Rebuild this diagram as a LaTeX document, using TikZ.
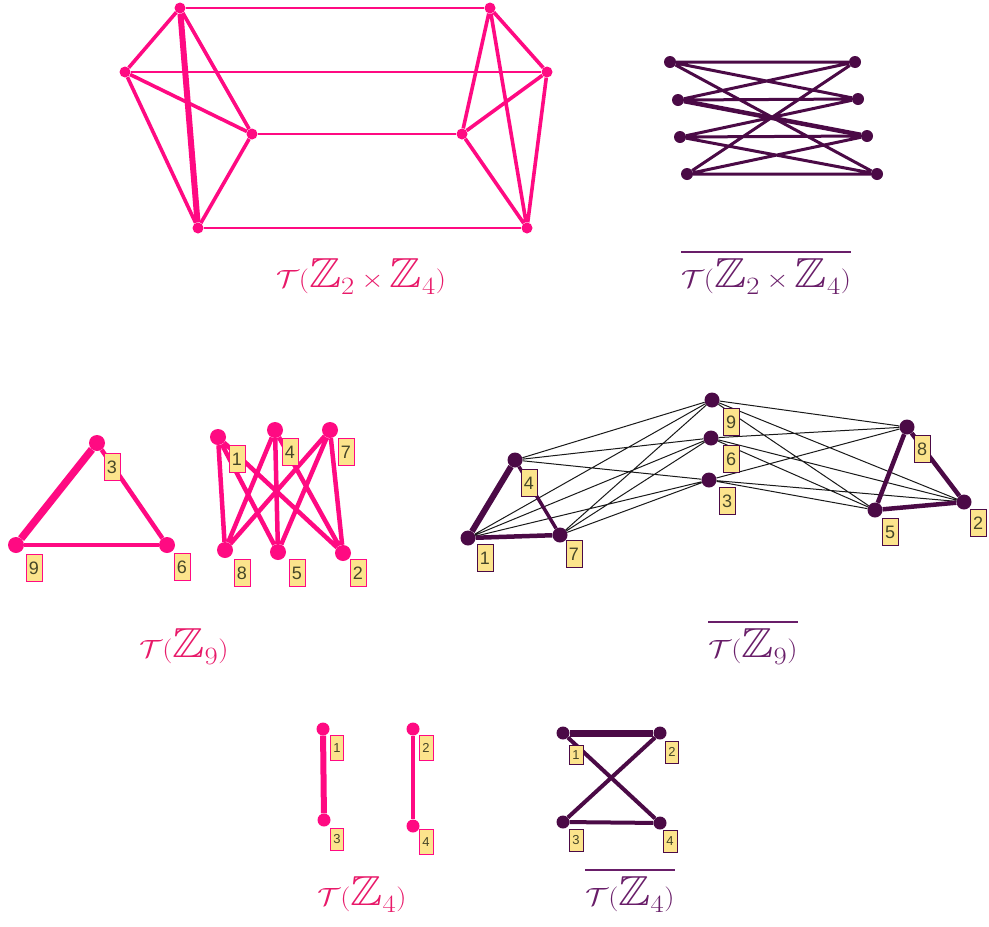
\documentclass[tikz,border=0pt]{standalone}
\usepackage{amsmath,amssymb}
\usepackage{fontspec}
\newfontfamily\lblfont{Liberation Sans}
\definecolor{pinkE}{RGB}{255,10,130}
\definecolor{purpE}{RGB}{75,10,70}
\definecolor{pinkC}{RGB}{232,25,105}
\definecolor{purpC}{RGB}{105,30,105}
\definecolor{lblfill}{RGB}{252,228,140}
\definecolor{lbltext}{RGB}{70,70,40}
\newcommand{\capbox}[1]{\scalebox{1.15}[1]{$#1$}}

\begin{document}
\begin{tikzpicture}[x=1pt,y=-1pt,
    pv/.style={circle,fill=pinkE,inner sep=0pt,minimum size=11pt},
    uv/.style={circle,fill=purpE,inner sep=0pt,minimum size=12pt},
    pl/.style={draw=pinkE,fill=lblfill,text=lbltext,line width=1pt,inner sep=0pt,
               minimum width=16pt,minimum height=27pt,font=\lblfont\fontsize{18}{18}\selectfont},
    ul/.style={pl,draw=purpE},
    pe/.style={draw=pinkE,line width=3.6pt},
    ue/.style={draw=purpE,line width=3pt},
    te/.style={draw=black!90,line width=1pt},
    capt/.style={anchor=base,font=\fontsize{42}{48}\selectfont}]
  \useasboundingbox (0,0) rectangle (989,927);

  \node[pv] (a1) at (180,8)   {};
  \node[pv] (a2) at (125,72)  {};
  \node[pv] (a3) at (252,134) {};
  \node[pv] (a4) at (198,228) {};
  \node[pv] (a5) at (490,8)   {};
  \node[pv] (a6) at (547,72)  {};
  \node[pv] (a7) at (462,134) {};
  \node[pv] (a8) at (527,228) {};
  \draw[pe] (a1)--(a2) (a1)--(a3) (a2)--(a3) (a2)--(a4) (a3)--(a4)
            (a5)--(a6) (a5)--(a7) (a5)--(a8) (a6)--(a7) (a6)--(a8) (a7)--(a8);
  \draw[pe,line width=6pt] (a1)--(a4);
  \draw[pe,line width=1.5pt] (a1)--(a5) (a2)--(a6) (a3)--(a7) (a4)--(a8);

  \node[uv] (b1) at (670,62)  {};
  \node[uv] (b2) at (678,100) {};
  \node[uv] (b3) at (680,137) {};
  \node[uv] (b4) at (687,174) {};
  \node[uv] (c1) at (855,62)  {};
  \node[uv] (c2) at (858,99)  {};
  \node[uv] (c3) at (867,136) {};
  \node[uv] (c4) at (877,174) {};
  \draw[ue] (b1)--(c1) (b1)--(c2) (b1)--(c4) (b2)--(c1) (b2)--(c2)
            (b3)--(c2) (b3)--(c3) (b3)--(c4) (b4)--(c1) (b4)--(c3) (b4)--(c4);
  \draw[ue,line width=4.5pt] (b2)--(c3);

  \node[capt,text=pinkC] (t1) at (361,287) {\capbox{\mathcal{T}(\mathbb{Z}_2\times\mathbb{Z}_4)}};
  \node[capt,text=purpC] (t2) at (766,287) {\capbox{\overline{\mathcal{T}(\mathbb{Z}_2\times\mathbb{Z}_4)}}};

  \node[pv,minimum size=16pt] (p3) at (97,443)  {};
  \node[pv,minimum size=16pt] (p9) at (16,545)  {};
  \node[pv,minimum size=16pt] (p6) at (167,545) {};
  \draw[pe,line width=7.5pt] (p3)--(p9);
  \draw[pe,line width=4.5pt] (p3)--(p6);
  \draw[pe,line width=4pt] (p9)--(p6);
  \node[pl] (lp3) at (112,467) {3};
  \node[pl] (lp9) at (34,568)  {9};
  \node[pl] (lp6) at (182,567) {6};

  \node[pv,minimum size=16pt] (p1) at (218,437) {};
  \node[pv,minimum size=16pt] (p4) at (275,430) {};
  \node[pv,minimum size=16pt] (p7) at (330,430) {};
  \node[pv,minimum size=16pt] (p8) at (225,550) {};
  \node[pv,minimum size=16pt] (p5) at (278,552) {};
  \node[pv,minimum size=16pt] (p2) at (343,553) {};
  \draw[pe,line width=4.5pt] (p1)--(p8) (p1)--(p5) (p1)--(p2) (p4)--(p8) (p4)--(p5) (p4)--(p2)
            (p7)--(p8) (p7)--(p5) (p7)--(p2);
  \node[pl] (lp1) at (237,459) {1};
  \node[pl] (lp4) at (290,452) {4};
  \node[pl] (lp7) at (346,452) {7};
  \node[pl] (lp8) at (242,573) {8};
  \node[pl] (lp5) at (297,573) {5};
  \node[pl] (lp2) at (358,573) {2};

  \node[uv,minimum size=15pt] (q1) at (468,538) {};
  \node[uv,minimum size=15pt] (q4) at (515,460) {};
  \node[uv,minimum size=15pt] (q7) at (560,535) {};
  \node[uv,minimum size=15pt] (q9) at (712,400) {};
  \node[uv,minimum size=15pt] (q6) at (711,438) {};
  \node[uv,minimum size=15pt] (q3) at (709,480) {};
  \node[uv,minimum size=15pt] (q8) at (907,427) {};
  \node[uv,minimum size=15pt] (q5) at (875,510) {};
  \node[uv,minimum size=15pt] (q2) at (964,502) {};
  \draw[te] (q9)--(q1) (q9)--(q4) (q9)--(q7) (q9)--(q8) (q9)--(q5) (q9)--(q2)
            (q6)--(q1) (q6)--(q4) (q6)--(q7) (q6)--(q8) (q6)--(q5) (q6)--(q2)
            (q3)--(q1) (q3)--(q4) (q3)--(q7) (q3)--(q8) (q3)--(q5) (q3)--(q2);
  \draw[ue,line width=6pt] (q1)--(q4);
  \draw[ue,line width=4.5pt] (q1)--(q7) (q8)--(q5) (q8)--(q2) (q5)--(q2);
  \draw[ue,line width=3.5pt] (q4)--(q7);
  \node[ul] (lq1) at (485,558) {1};
  \node[ul] (lq4) at (529,483) {4};
  \node[ul] (lq7) at (574,554) {7};
  \node[ul] (lq9) at (731,422) {9};
  \node[ul] (lq6) at (731,459) {6};
  \node[ul] (lq3) at (727,501) {3};
  \node[ul] (lq8) at (922,449) {8};
  \node[ul] (lq5) at (890,532) {5};
  \node[ul] (lq2) at (978,523) {2};

  \node[capt,text=pinkC] (t3) at (184,657) {\capbox{\mathcal{T}(\mathbb{Z}_9)}};
  \node[capt,text=purpC] (t4) at (753,657) {\capbox{\overline{\mathcal{T}(\mathbb{Z}_9)}}};

  \node[pv,minimum size=13pt] (r1) at (323,729) {};
  \node[pv,minimum size=13pt] (r3) at (324,820) {};
  \node[pv,minimum size=13pt] (r2) at (413,729) {};
  \node[pv,minimum size=13pt] (r4) at (413,826) {};
  \draw[pe,line width=6pt] (r1)--(r3);
  \draw[pe,line width=3.5pt] (r2)--(r4);
  \node[pl,minimum width=13pt,minimum height=25pt,font=\lblfont\fontsize{13}{13}\selectfont] (lr1) at (337,748) {1};
  \node[pl,minimum width=13pt,minimum height=22pt,font=\lblfont\fontsize{13}{13}\selectfont] (lr3) at (337,839) {3};
  \node[pl,minimum width=14pt,minimum height=25pt,font=\lblfont\fontsize{13}{13}\selectfont] (lr2) at (426,748) {2};
  \node[pl,minimum width=14pt,minimum height=25pt,font=\lblfont\fontsize{13}{13}\selectfont] (lr4) at (426,842) {4};

  \node[uv,minimum size=13pt] (s1) at (563,733) {};
  \node[uv,minimum size=13pt] (s2) at (660,733) {};
  \node[uv,minimum size=13pt] (s3) at (563,822) {};
  \node[uv,minimum size=13pt] (s4) at (660,823) {};
  \draw[ue,line width=7pt] (s1)--(s2);
  \draw[ue,line width=4pt] (s3)--(s4) (s1)--(s4) (s2)--(s3);
  \node[ul,minimum width=14pt,minimum height=19pt,font=\lblfont\fontsize{13}{13}\selectfont] (ls1) at (576,755) {1};
  \node[ul,minimum width=13pt,minimum height=22pt,font=\lblfont\fontsize{13}{13}\selectfont] (ls2) at (672,752) {2};
  \node[ul,minimum width=14pt,minimum height=22pt,font=\lblfont\fontsize{13}{13}\selectfont] (ls3) at (576,840) {3};
  \node[ul,minimum width=14pt,minimum height=22pt,font=\lblfont\fontsize{13}{13}\selectfont] (ls4) at (670,841) {4};

  \node[capt,text=pinkC] (t5) at (362,905) {\capbox{\mathcal{T}(\mathbb{Z}_4)}};
  \node[capt,text=purpC] (t6) at (630,905) {\capbox{\overline{\mathcal{T}(\mathbb{Z}_4)}}};
\end{tikzpicture}
\end{document}
